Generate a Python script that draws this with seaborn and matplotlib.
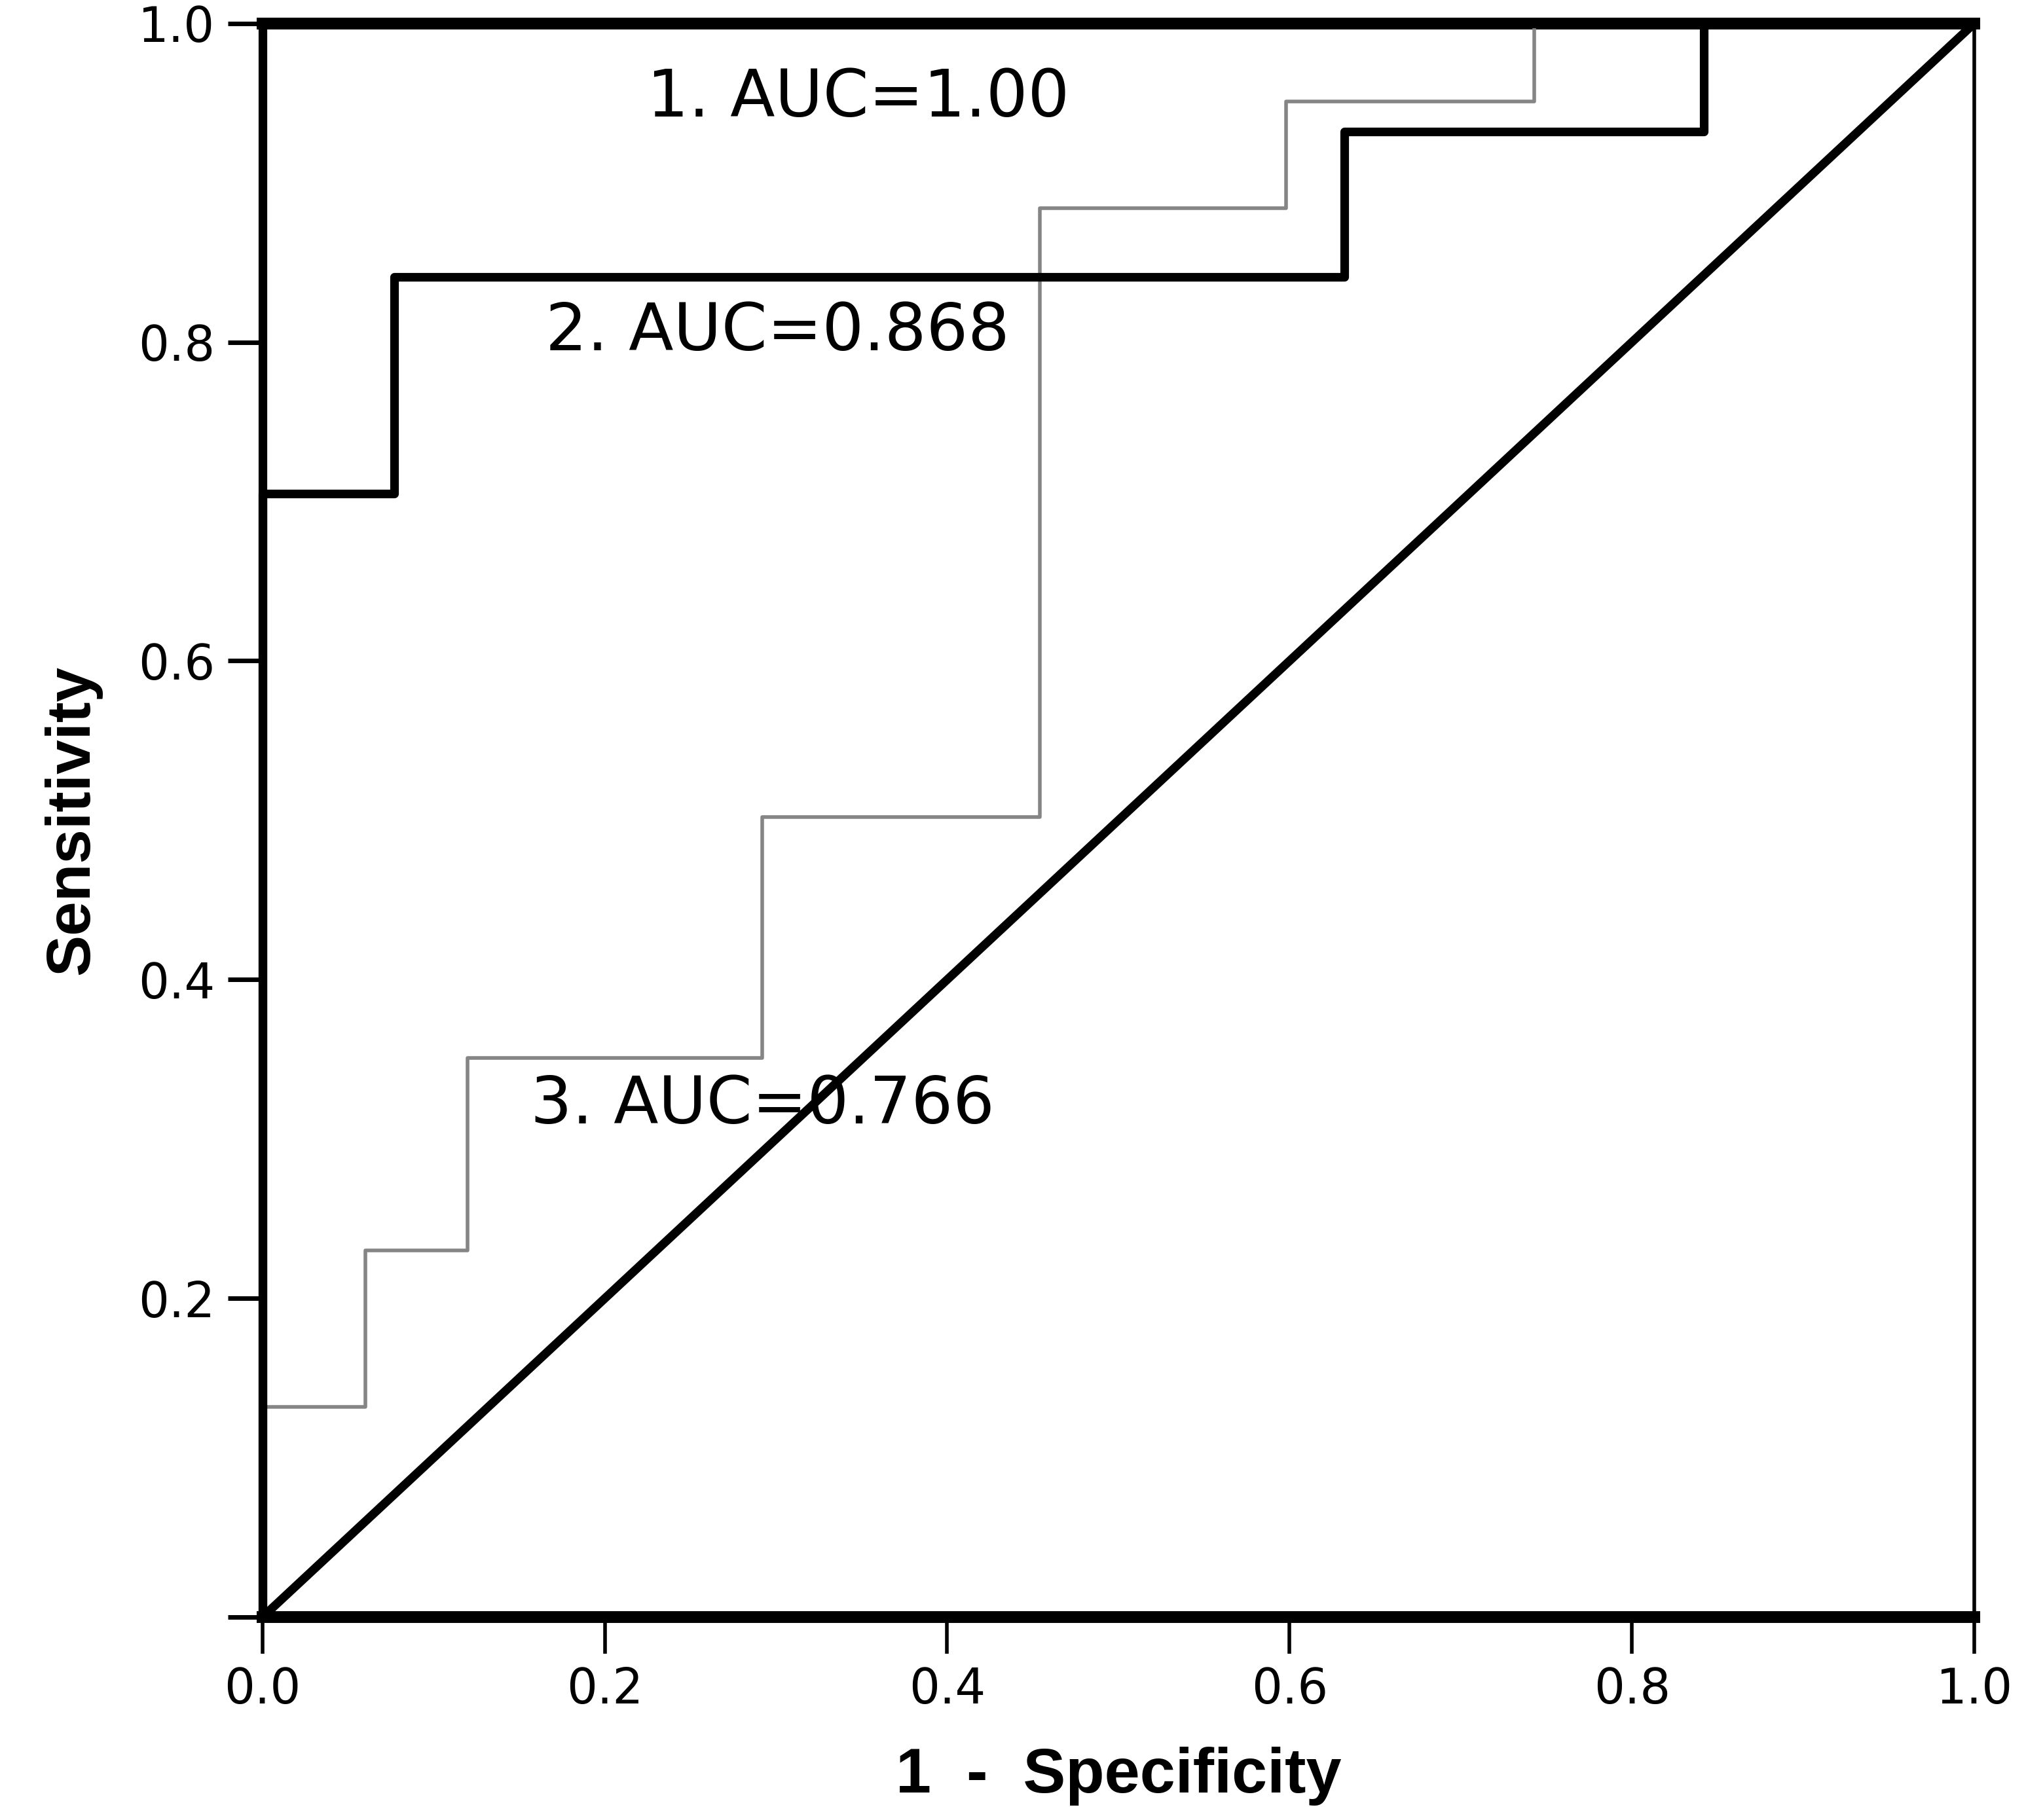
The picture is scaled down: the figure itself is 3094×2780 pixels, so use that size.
import matplotlib
matplotlib.use("Agg")
import matplotlib.pyplot as plt
import seaborn as sns
import pandas as pd

# ROC step corners (steps-post order)
fpr_1 = [0.0, 0.0, 1.0]
tpr_1 = [0.0, 1.0, 1.0]

fpr_2 = [0.0, 0.0, 0.077, 0.632, 0.842, 1.0]
tpr_2 = [0.0, 0.705, 0.841, 0.932, 1.0, 1.0]

fpr_3 = [0.0, 0.0, 0.060, 0.120, 0.292, 0.454, 0.598, 0.743, 1.0]
tpr_3 = [0.0, 0.132, 0.230, 0.351, 0.502, 0.884, 0.951, 1.0, 1.0]

ref_x = [0.0, 1.0]
ref_y = [0.0, 1.0]

auc_labels = ["1. AUC=1.00", "2. AUC=0.868", "3. AUC=0.766"]
tick_vals = [0.0, 0.2, 0.4, 0.6, 0.8, 1.0]
xtick_labels = ["0.0", "0.2", "0.4", "0.6", "0.8", "1.0"]
ytick_labels = ["", "0.2", "0.4", "0.6", "0.8", "1.0"]

sns.set_style("white")
plt.rcParams["font.family"] = ["DejaVu Sans"]
plt.rcParams.update({"text.color": "black", "axes.labelcolor": "black",
                     "xtick.color": "black", "ytick.color": "black"})

fig = plt.figure(figsize=(30.94, 27.80), dpi=100)
ax = fig.add_axes([0.1295, 0.1114, 0.845, 0.8758])

curves = [
    (fpr_3, tpr_3, "#858585", 4.0),
    (fpr_2, tpr_2, "black", 9.5),
    (fpr_1, tpr_1, "black", 9.5),
]
for fx, ty, color, lw in curves:
    df = pd.DataFrame({"fpr": fx, "tpr": ty})
    sns.lineplot(data=df, x="fpr", y="tpr", ax=ax, color=color, linewidth=lw,
                 estimator=None, sort=False, drawstyle="steps-post",
                 clip_on=False, zorder=3)

diag = pd.DataFrame({"fpr": ref_x, "tpr": ref_y})
sns.lineplot(data=diag, x="fpr", y="tpr", ax=ax, color="black", linewidth=9.5,
             estimator=None, sort=False, clip_on=False, zorder=4)

ax.set_xlim(0, 1)
ax.set_ylim(0, 1)

ax.text(0.348, 0.953, auc_labels[0], fontsize=72, ha="center", va="center")
ax.text(0.301, 0.806, auc_labels[1], fontsize=72, ha="center", va="center")
ax.text(0.292, 0.321, auc_labels[2], fontsize=72, ha="center", va="center")

ax.set_xticks(tick_vals)
ax.set_xticklabels(xtick_labels)
ax.set_yticks(tick_vals)
ax.set_yticklabels(ytick_labels)
ax.tick_params(axis="x", direction="out", length=40, width=4, pad=14,
               labelsize=53, bottom=True)
ax.tick_params(axis="y", direction="out", length=38, width=5, pad=14,
               labelsize=53, left=True)

ax.set_xlabel("1  -  Specificity", fontsize=70, fontweight="bold",
              family="Liberation Sans", labelpad=36)
ax.set_ylabel("Sensitivity", fontsize=68, fontweight="bold",
              family="Liberation Sans", labelpad=40)

for side, lw in [("top", 13), ("bottom", 13), ("left", 5), ("right", 4)]:
    ax.spines[side].set_visible(True)
    ax.spines[side].set_color("black")
    ax.spines[side].set_linewidth(lw)

ax.grid(False)
fig.savefig("out.png", dpi=100)
plt.close(fig)
